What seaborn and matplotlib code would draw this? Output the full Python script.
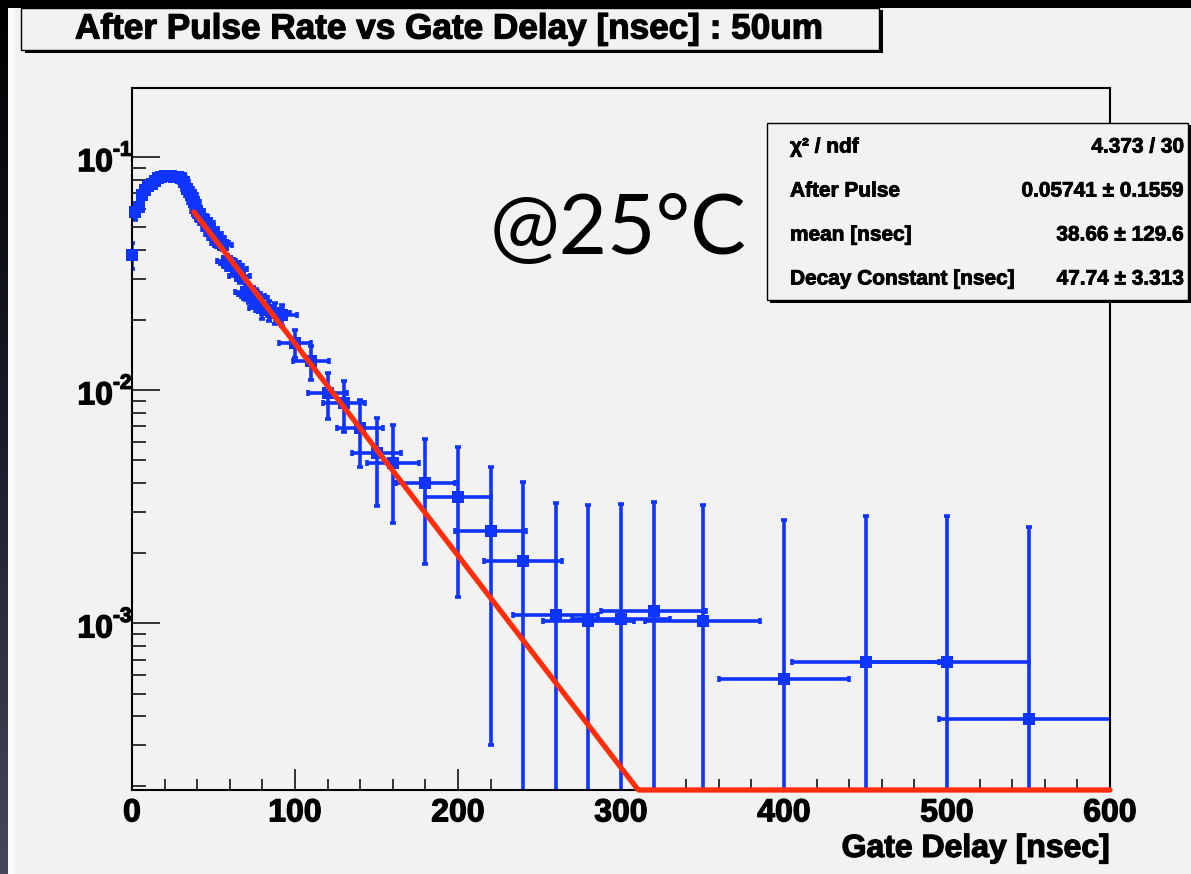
import numpy as np
import pandas as pd
import seaborn as sns
import matplotlib.pyplot as plt
import matplotlib.patheffects as pe
from matplotlib.patches import Rectangle
from matplotlib.colors import LinearSegmentedColormap
from matplotlib.transforms import blended_transform_factory, offset_copy
from matplotlib.ticker import FixedLocator, LogLocator, NullFormatter, MultipleLocator

# ---- measured after-pulse rate vs gate delay ----
gate_delay = [0, 2, 4, 6, 8, 10, 12, 14, 16, 18, 20, 22, 24, 26, 28, 30, 32, 34, 36, 38,
              40, 42, 44, 46, 48, 50, 52, 54, 56,
              58, 60, 62, 64, 66,
              70, 72, 74, 76,
              80, 84, 88, 92,
              100, 110, 120, 130, 140, 150, 160, 180, 200, 220, 240,
              260, 280, 300, 320, 350, 400, 450, 500, 550]
rate = [0.038, 0.058, 0.061, 0.069, 0.072, 0.075, 0.077, 0.079, 0.081, 0.082, 0.083, 0.083,
        0.083, 0.082, 0.082, 0.081, 0.078, 0.073, 0.069, 0.064,
        0.059, 0.056, 0.054, 0.052, 0.049, 0.047, 0.045, 0.043, 0.042,
        0.036, 0.035, 0.034, 0.033, 0.031,
        0.0265, 0.026, 0.0255, 0.025,
        0.0225, 0.022, 0.0215, 0.021,
        0.0159, 0.0133, 0.0097, 0.0088, 0.0069, 0.0054, 0.0049, 0.0040, 0.0035, 0.0025, 0.00186,
        0.00109, 0.00102, 0.00104, 0.00113, 0.00102, 0.00058, 0.00068, 0.00068, 0.00039]
rate_err = [0.005, 0.004] + [0.0022] * (len(rate) - 2)
delay_err = [0.1 * d for d in gate_delay]

# ---- fit result ----
fit_amp = 0.05741
fit_mean = 38.66
fit_tau = 47.74
fit_range = (38, 600)
stats_rows = [("χ² / ndf", "4.373 / 30"),
              ("After Pulse", "0.05741 ± 0.1559"),
              ("mean [nsec]", "38.66 ± 129.6"),
              ("Decay Constant [nsec]", "47.74 ± 3.313")]

title = "After Pulse Rate vs Gate Delay [nsec] : 50um"
x_label = "Gate Delay [nsec]"
note = "@25°C"
x_ticks = [0, 100, 200, 300, 400, 500, 600]
y_ticks = [1e-3, 1e-2, 1e-1]
y_tick_exponents = ["-3", "-2", "-1"]
y_limits = (1.93e-4, 0.198)

df = pd.DataFrame({"delay": gate_delay, "rate": rate,
                   "rate_err": rate_err, "delay_err": delay_err})

BLUE = "#1034ff"
RED = "#ff2d0a"
CANVAS = "#f2f2f2"
HEAVY = [pe.withStroke(linewidth=0.9, foreground="black")]

sns.set_style("ticks")
plt.rcParams["font.family"] = ["Liberation Sans", "DejaVu Sans"]
for key in ["text.color", "axes.labelcolor", "xtick.color", "ytick.color", "axes.edgecolor"]:
    plt.rcParams[key] = "black"

W, H = 1191, 874
fig = plt.figure(figsize=(W / 100, H / 100), dpi=100, facecolor=CANVAS)


def fx(px):
    return px / W


def fy(py):
    return 1 - py / H


# dark window border: black top strip, gradient left strip, thin light stripe
fig.patches.append(Rectangle((0, fy(8)), 1, 8 / H, transform=fig.transFigure,
                             facecolor="black", edgecolor="none", zorder=0))
fig.patches.append(Rectangle((fx(8), 0), 7 / W, fy(8), transform=fig.transFigure,
                             facecolor="#fafafa", edgecolor="none", zorder=0))
grad_ax = fig.add_axes([0, 0, fx(8), 1])
grad_ax.imshow(np.linspace(0, 1, 256).reshape(-1, 1), aspect="auto",
               cmap=LinearSegmentedColormap.from_list("edge", ["#000000", "#1a1c2a", "#45485c"]))
grad_ax.set_axis_off()

# main plot frame
ax = fig.add_axes([fx(132), fy(790), (1110 - 132) / W, (790 - 88) / H])
ax.set_facecolor(CANVAS)

lower = np.minimum(df["rate_err"], df["rate"] - 1e-6)
ax.errorbar(df["delay"], df["rate"], xerr=df["delay_err"], yerr=[lower, df["rate_err"]],
            fmt="none", ecolor=BLUE, elinewidth=2.6, capsize=2.2, capthick=2.6, zorder=2)
sns.scatterplot(data=df, x="delay", y="rate", marker="s", s=85, color=BLUE,
                edgecolor=BLUE, linewidth=0, ax=ax, zorder=3, legend=False, clip_on=False)

# exponential fit, held at the lower frame edge where it leaves the range
xf = np.linspace(fit_range[0], fit_range[1], 800)
yf = fit_amp * np.exp(-(xf - fit_mean) / fit_tau)
fit_df = pd.DataFrame({"delay": xf, "rate": np.clip(yf, y_limits[0], None)})
sns.lineplot(data=fit_df, x="delay", y="rate", color=RED, linewidth=3.8, ax=ax,
             zorder=4, clip_on=False, estimator=None, sort=False)

ax.set_yscale("log")
ax.set_xlim(0, 600)
ax.set_ylim(*y_limits)
ax.set_ylabel("")
xl = ax.set_xlabel(x_label, loc="right", fontsize=23, fontweight="bold", labelpad=4,
                   color="black")
xl.set_path_effects(HEAVY)

ax.xaxis.set_major_locator(FixedLocator(x_ticks))
ax.xaxis.set_minor_locator(MultipleLocator(20))
ax.yaxis.set_major_locator(FixedLocator(y_ticks))
ax.yaxis.set_major_formatter(NullFormatter())
ax.yaxis.set_minor_locator(LogLocator(base=10, subs=range(2, 10)))
ax.yaxis.set_minor_formatter(NullFormatter())

ax.tick_params(axis="x", which="major", direction="in", length=15, width=1.1, pad=6,
               labelsize=23, top=False, colors="black")
ax.tick_params(axis="x", which="minor", direction="in", length=8, width=1.1, top=False,
               colors="black")
ax.tick_params(axis="y", which="major", direction="in", length=20, width=1.1,
               right=False, colors="black")
ax.tick_params(axis="y", which="minor", direction="in", length=10, width=1.1, right=False,
               colors="black")
for lab in ax.get_xticklabels():
    lab.set_fontweight("bold")
    lab.set_path_effects(HEAVY)
for side in ["left", "right", "top", "bottom"]:
    ax.spines[side].set_visible(True)
    ax.spines[side].set_color("black")
    ax.spines[side].set_linewidth(1.5)

# power-of-ten labels with a plain hyphen in the exponent
ytrans = blended_transform_factory(ax.transAxes, ax.transData)
for v, ex in zip(y_ticks, y_tick_exponents):
    ax.text(0, v, "10", transform=offset_copy(ytrans, fig, x=-19, y=-6, units="dots"),
            ha="right", va="center", fontsize=23, fontweight="bold", color="black",
            path_effects=HEAVY, clip_on=False)
    ax.text(0, v, ex, transform=offset_copy(ytrans, fig, x=-19, y=7, units="dots"),
            ha="left", va="center", fontsize=15, fontweight="bold", color="black",
            path_effects=HEAVY, clip_on=False)

# title box with drop shadow
fig.patches.append(Rectangle((fx(25), fy(53)), 858 / W, 43 / H, transform=fig.transFigure,
                             facecolor="black", edgecolor="none", zorder=5))
fig.patches.append(Rectangle((fx(21), fy(50)), 858 / W, 42 / H, transform=fig.transFigure,
                             facecolor=CANVAS, edgecolor="black", linewidth=1.0, zorder=6))
fig.text(fx(75), fy(29), title, fontsize=25.3, fontweight="bold", ha="left", va="center",
         color="black", zorder=7, path_effects=HEAVY)

# temperature note
fig.text(fx(490), fy(254), note, fontsize=60, family=["Lato", "DejaVu Sans"],
         color="black", ha="left", va="baseline", zorder=7)

# fit statistics box with drop shadow
fig.patches.append(Rectangle((fx(770), fy(303)), 421 / W, 178 / H, transform=fig.transFigure,
                             facecolor="black", edgecolor="none", zorder=5))
fig.patches.append(Rectangle((fx(767), fy(300)), 421 / W, 177 / H, transform=fig.transFigure,
                             facecolor=CANVAS, edgecolor="black", linewidth=1.0, zorder=6))
stat_fx = [pe.withStroke(linewidth=0.6, foreground="black")]
for i, (name, value) in enumerate(stats_rows):
    ypix = 147 + i * 44
    fig.text(fx(790), fy(ypix), name, fontsize=15, fontweight="bold", ha="left",
             va="center", color="black", zorder=7, path_effects=stat_fx)
    fig.text(fx(1184), fy(ypix), value, fontsize=15, fontweight="bold", ha="right",
             va="center", color="black", zorder=7, path_effects=stat_fx)

fig.savefig("out.png", dpi=100, facecolor=CANVAS)
